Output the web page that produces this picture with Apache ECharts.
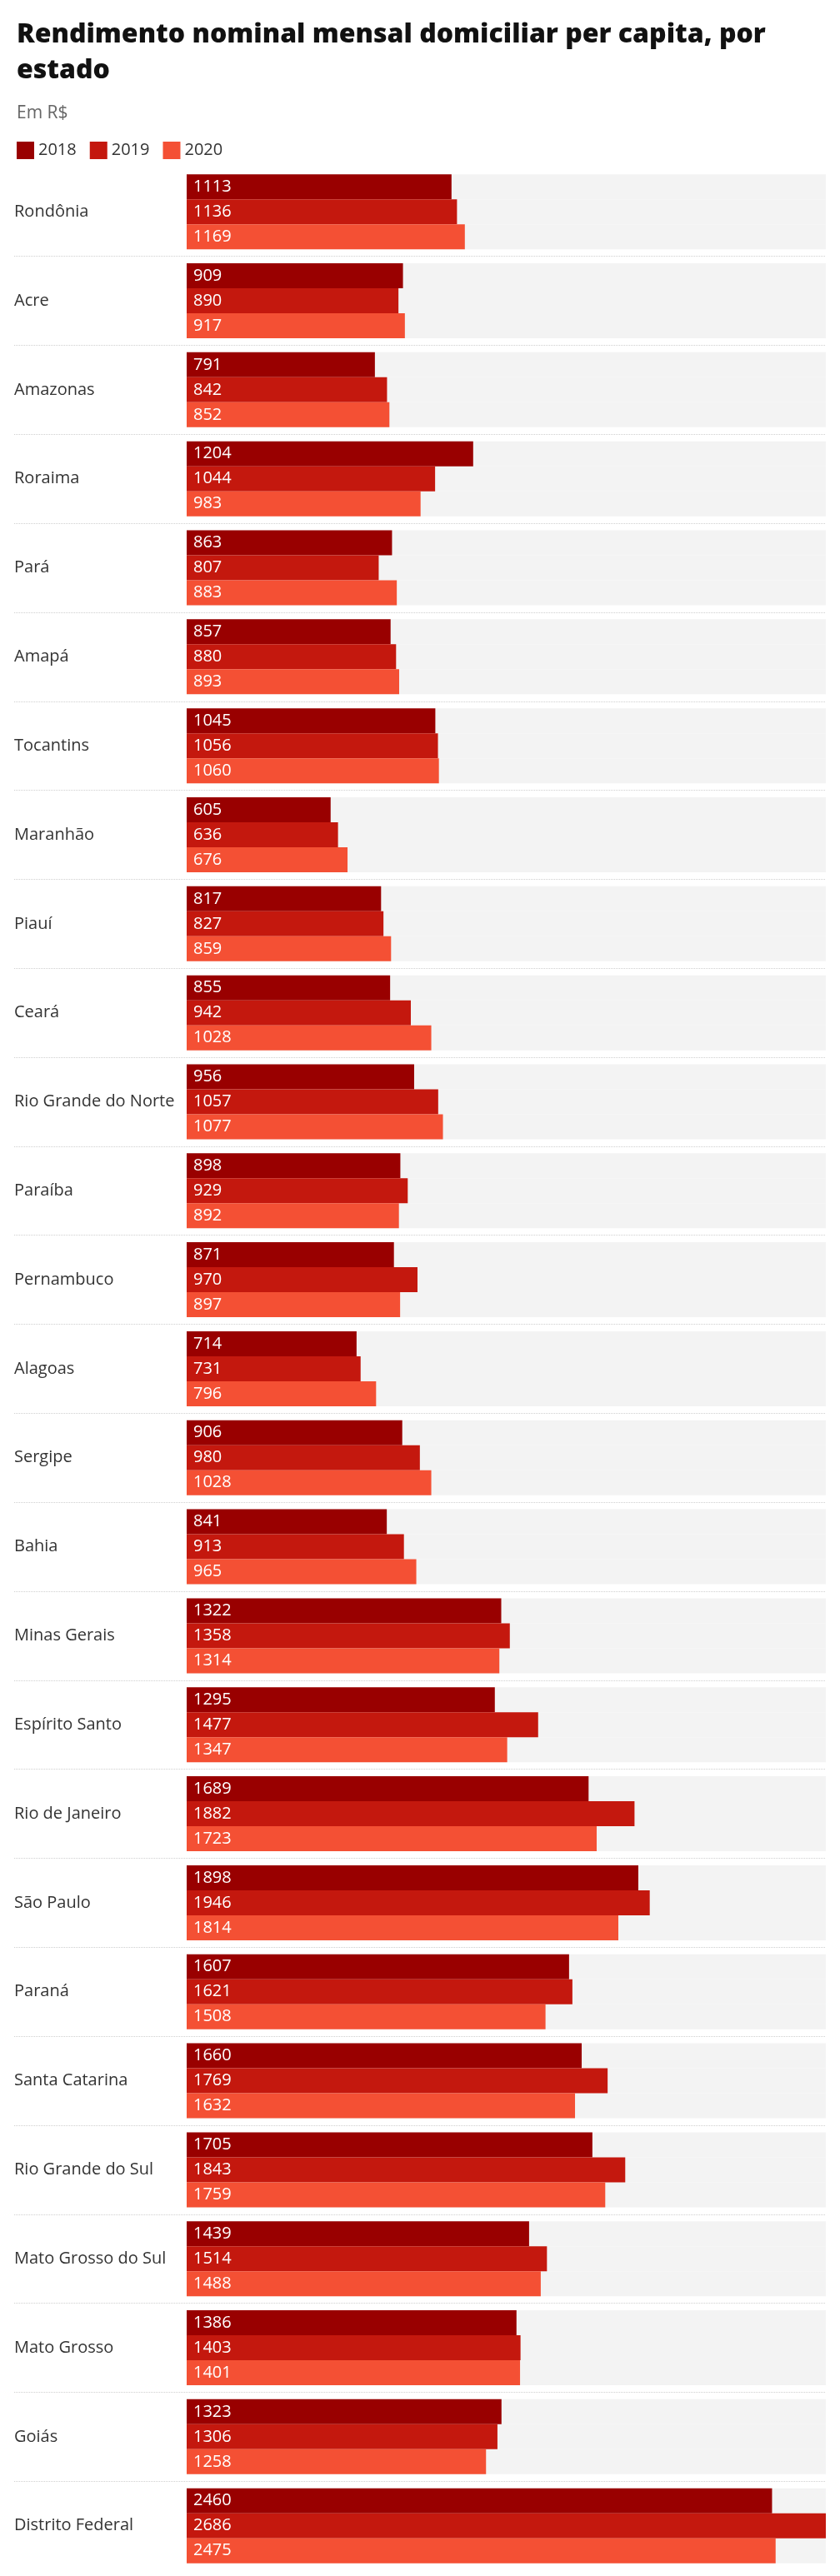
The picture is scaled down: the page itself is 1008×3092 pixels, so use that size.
<!DOCTYPE html>
<html>
<head>
<meta charset="utf-8">
<script src="https://cdn.jsdelivr.net/npm/echarts@6/dist/echarts.min.js"></script>
<style>
  html, body { margin: 0; padding: 0; background: #ffffff; }
  #chart { width: 1008px; height: 3092px; }
</style>
</head>
<body>
<div id="chart"></div>
<script>
const states = ["Rondônia", "Acre", "Amazonas", "Roraima", "Pará", "Amapá", "Tocantins", "Maranhão", "Piauí", "Ceará", "Rio Grande do Norte", "Paraíba", "Pernambuco", "Alagoas", "Sergipe", "Bahia", "Minas Gerais", "Espírito Santo", "Rio de Janeiro", "São Paulo", "Paraná", "Santa Catarina", "Rio Grande do Sul", "Mato Grosso do Sul", "Mato Grosso", "Goiás", "Distrito Federal"];
const years = ["2018", "2019", "2020"];
const values2018 = [1113, 909, 791, 1204, 863, 857, 1045, 605, 817, 855, 956, 898, 871, 714, 906, 841, 1322, 1295, 1689, 1898, 1607, 1660, 1705, 1439, 1386, 1323, 2460];
const values2019 = [1136, 890, 842, 1044, 807, 880, 1056, 636, 827, 942, 1057, 929, 970, 731, 980, 913, 1358, 1477, 1882, 1946, 1621, 1769, 1843, 1514, 1403, 1306, 2686];
const values2020 = [1169, 917, 852, 983, 883, 893, 1060, 676, 859, 1028, 1077, 892, 897, 796, 1028, 965, 1314, 1347, 1723, 1814, 1508, 1632, 1759, 1488, 1401, 1258, 2475];

const FONT = "'Open Sans', 'Noto Sans', sans-serif";
const colors = ["#990000", "#c4180e", "#f45034"];
const seriesValues = [values2018, values2019, values2020];

// separators only between groups (hide the outer boundary lines)
const sepColors = [];
for (let i = 0; i <= states.length; i++) {
  sepColors.push(i === 0 || i === states.length ? "rgba(0,0,0,0)" : "#cfcfcf");
}

const chart = echarts.init(document.getElementById("chart"), null, { renderer: "canvas" });

const gridTop = 200.8;
const gridBottom = 6.9;

chart.setOption({
  backgroundColor: "#ffffff",
  animation: false,
  title: [
    {
      text: "Rendimento nominal mensal domiciliar per capita, por\nestado",
      left: 15,
      top: 15,
      textStyle: {
        fontFamily: FONT,
        fontSize: 32,
        fontWeight: 800,
        color: "#111111",
        lineHeight: 43
      }
    },
    {
      text: "Em R$",
      left: 15,
      top: 119,
      textStyle: {
        fontFamily: FONT,
        fontSize: 21,
        fontWeight: "normal",
        color: "#666666",
        lineHeight: 24
      }
    }
  ],
  legend: {
    data: years,
    left: 15,
    top: 165,
    itemWidth: 21,
    itemHeight: 21,
    itemGap: 16,
    icon: "rect",
    textStyle: { fontFamily: FONT, fontSize: 20, color: "#333333", padding: [0, 0, 0, 0] },
    selectedMode: false
  },
  grid: [
    { left: 224, right: 17, top: gridTop, bottom: gridBottom, containLabel: false },
    { left: 17, right: 17, top: gridTop, bottom: gridBottom, containLabel: false }
  ],
  xAxis: [
    { type: "value", gridIndex: 0, min: 0, max: "dataMax", show: false },
    { type: "value", gridIndex: 1, min: 0, max: 1, show: false }
  ],
  yAxis: [
    {
      type: "category",
      gridIndex: 0,
      data: states,
      inverse: true,
      show: false
    },
    {
      type: "category",
      gridIndex: 1,
      data: states,
      inverse: true,
      axisLine: { show: false },
      axisTick: { show: false },
      axisLabel: {
        inside: true,
        margin: 0,
        fontFamily: FONT,
        fontSize: 20,
        color: "#333333"
      },
      splitLine: {
        show: true,
        lineStyle: { color: sepColors, type: "dotted", width: 1 }
      }
    }
  ],
  series: years.map((y, i) => ({
    name: y,
    type: "bar",
    xAxisIndex: 0,
    yAxisIndex: 0,
    data: seriesValues[i],
    barWidth: 30,
    barGap: "0%",
    itemStyle: { color: colors[i] },
    showBackground: true,
    backgroundStyle: { color: "#f3f3f3" },
    label: {
      show: true,
      position: "insideLeft",
      distance: 8,
      color: "#ffffff",
      fontFamily: FONT,
      fontSize: 20
    },
    emphasis: { disabled: true }
  }))
});
</script>
</body>
</html>
